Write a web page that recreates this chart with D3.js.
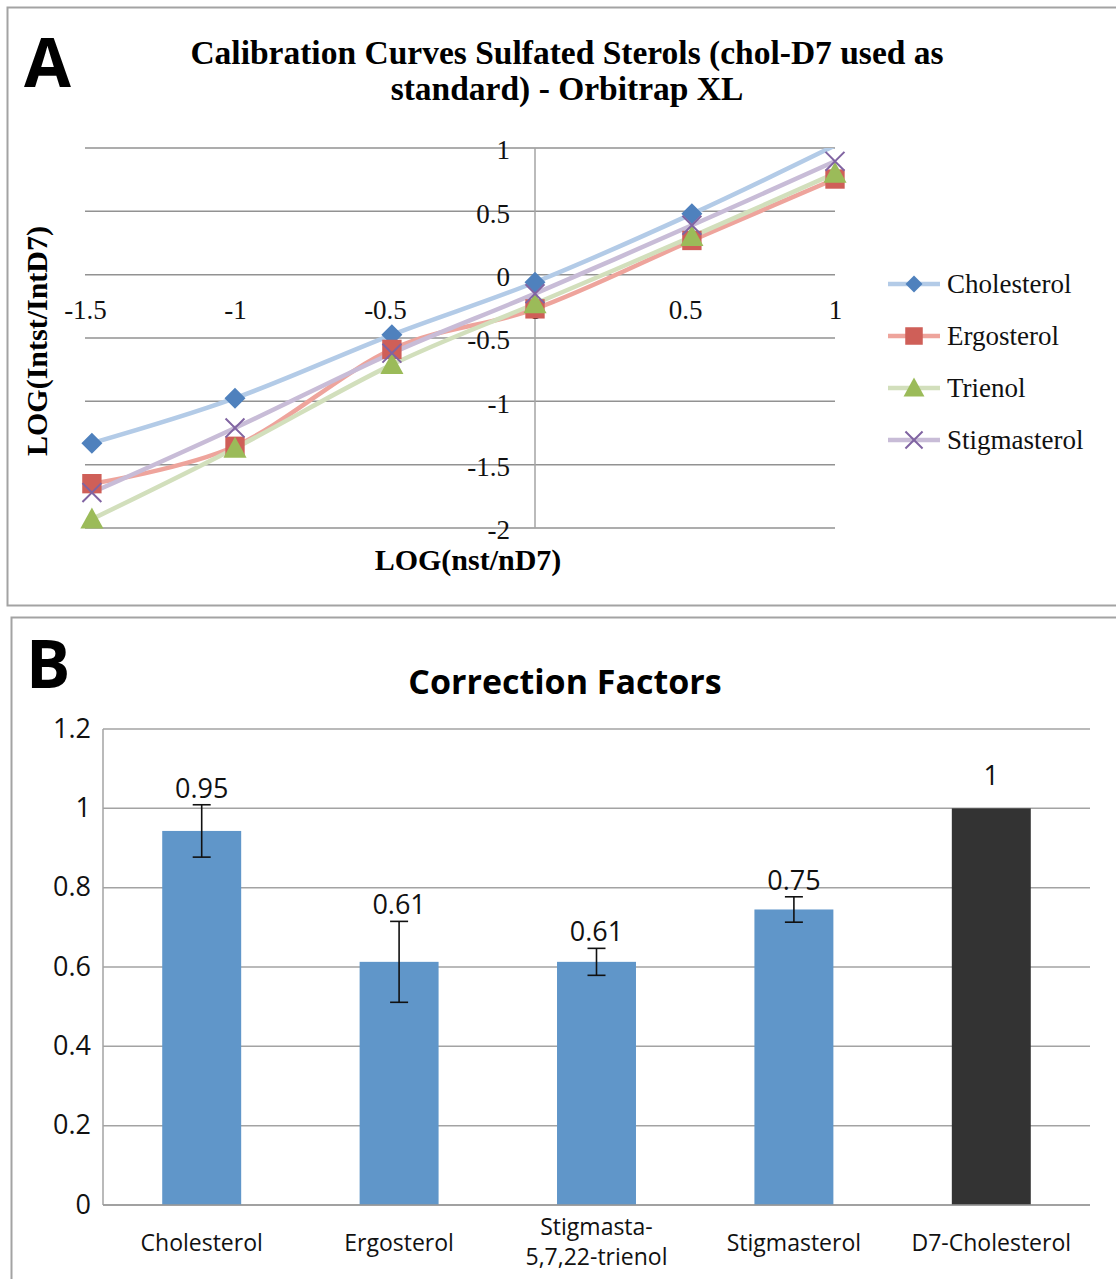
<!DOCTYPE html>
<html>
<head>
  <meta charset="utf-8">
  <script src="https://d3js.org/d3.v7.min.js"></script>
  <style>
    body { margin: 0; background: #fff; }
    .serif { font-family: "Liberation Serif", serif; }
    .sans { font-family: "Open Sans", sans-serif; }
  </style>
</head>
<body>
<svg id="chart"></svg>
<script>

// ---- panel A data : calibration curves ----
var logN = [-1.477, -1, -0.477, 0, 0.523, 1];
var seriesNames = ["Cholesterol", "Ergosterol", "Trienol", "Stigmasterol"];
var cholesterol  = [-1.33, -0.975, -0.475, -0.06, 0.48, 1.02];
var ergosterol   = [-1.65, -1.355, -0.59, -0.27, 0.27, 0.755];
var trienol      = [-1.93, -1.37, -0.71, -0.23, 0.30, 0.80];
var stigmasterol = [-1.72, -1.21, -0.62, -0.15, 0.39, 0.895];
var xTicksA = [-1.5, -1, -0.5, 0, 0.5, 1];
var yTicksA = [-2, -1.5, -1, -0.5, 0, 0.5, 1];

// ---- panel B data : correction factors ----
var compounds = ["Cholesterol", "Ergosterol", "Stigmasta-|5,7,22-trienol", "Stigmasterol", "D7-Cholesterol"];
var factors = [0.943, 0.613, 0.613, 0.745, 1.0];
var factorErr = [0.066, 0.102, 0.034, 0.032, 0];
var factorLabels = ["0.95", "0.61", "0.61", "0.75", "1"];
var yTicksB = [0, 0.2, 0.4, 0.6, 0.8, 1, 1.2];

var W = 1116, H = 1279;
var svg = d3.select("#chart").attr("width", W).attr("height", H);

// panel frames
svg.append("rect").attr("x", 7.5).attr("y", 7.5).attr("width", 1120).attr("height", 598)
  .attr("fill", "none").attr("stroke", "#a3a3a3").attr("stroke-width", 2);
svg.append("rect").attr("x", 11.5).attr("y", 617.5).attr("width", 1120).attr("height", 700)
  .attr("fill", "none").attr("stroke", "#a3a3a3").attr("stroke-width", 2);

// ================= PANEL A =================
var xA = d3.scaleLinear().domain([-1.5, 1]).range([85, 835]);
var yA = d3.scaleLinear().domain([-2, 1]).range([528, 148]);

svg.append("defs").append("clipPath").attr("id", "plotA").append("rect")
  .attr("x", xA(-1.5) - 20).attr("y", yA(1)).attr("width", xA(1) - xA(-1.5) + 40)
  .attr("height", yA(-2) - yA(1) + 20);

svg.append("text").attr("class", "sans").attr("x", 24).attr("y", 87)
  .attr("font-size", 68).attr("font-weight", "bold").text("A");

var titleA = svg.append("text").attr("class", "serif").attr("text-anchor", "middle")
  .attr("font-size", 33.5).attr("font-weight", "bold");
titleA.append("tspan").attr("x", 567).attr("y", 64).text("Calibration Curves Sulfated Sterols (chol-D7 used as");
titleA.append("tspan").attr("x", 567).attr("y", 100).text("standard) - Orbitrap XL");

// horizontal gridlines
svg.append("g").selectAll("line").data(yTicksA).enter().append("line")
  .attr("x1", xA(-1.5)).attr("x2", xA(1))
  .attr("y1", function(d) { return yA(d); }).attr("y2", function(d) { return yA(d); })
  .attr("stroke", "#929292").attr("stroke-width", 1.5);

// vertical axis through 0
svg.append("line").attr("x1", xA(0)).attr("x2", xA(0)).attr("y1", yA(1)).attr("y2", yA(-2))
  .attr("stroke", "#a5a5a5").attr("stroke-width", 1.5);

var yAxisA = svg.append("g").attr("transform", "translate(" + xA(0) + ",0)")
  .call(d3.axisLeft(yA).tickValues(yTicksA).tickSize(0).tickPadding(25)
    .tickFormat(function(d) { return d.toString(); }));
yAxisA.select(".domain").remove();
yAxisA.selectAll("text").attr("class", "serif").attr("font-size", 27).attr("fill", "#111")
  .attr("dy", "0.4em");

var xAxisA = svg.append("g").attr("transform", "translate(0," + yA(0) + ")")
  .call(d3.axisBottom(xA).tickValues(xTicksA).tickSize(0).tickPadding(25)
    .tickFormat(function(d) { return d.toString(); }));
xAxisA.select(".domain").remove();
xAxisA.selectAll("text").attr("class", "serif").attr("font-size", 27).attr("fill", "#111");

// axis titles
svg.append("text").attr("class", "serif").attr("font-size", 30).attr("font-weight", "bold")
  .attr("text-anchor", "middle").attr("x", 468).attr("y", 570).text("LOG(nst/nD7)");
svg.append("text").attr("class", "serif").attr("font-size", 30).attr("font-weight", "bold")
  .attr("text-anchor", "middle").attr("transform", "translate(47,341) rotate(-90)")
  .text("LOG(Intst/IntD7)");

var lineColors = ["#b3cbe7", "#eea49c", "#d2dfbc", "#c8bcd7"];
var markColors = ["#4f81bd", "#cf5f58", "#9bbb59", "#8064a2"];
var allSeries = [cholesterol, ergosterol, trienol, stigmasterol];

function markerPath(i, s) {
  if (i === 0) return d3.symbol().type(d3.symbolSquare).size(s * s * 0.5)();
  if (i === 1) return d3.symbol().type(d3.symbolSquare).size(s * s * 0.85)();
  if (i === 2) return "M0," + (-s * 0.55) + "L" + (s * 0.55) + "," + (s * 0.45) + "L" + (-s * 0.55) + "," + (s * 0.45) + "Z";
  var r = s * 0.45;
  return "M" + (-r) + "," + (-r) + "L" + r + "," + r + "M" + (-r) + "," + r + "L" + r + "," + (-r);
}
function drawMarker(g, i, cx, cy, s) {
  var p = g.append("path").attr("d", markerPath(i, s));
  var tr = "translate(" + cx + "," + cy + ")" + (i === 0 ? " rotate(45)" : "");
  p.attr("transform", tr);
  if (i === 3) p.attr("fill", "none").attr("stroke", markColors[i]).attr("stroke-width", 2);
  else p.attr("fill", markColors[i]);
}

var line = d3.line()
  .x(function(d) { return xA(d.x); })
  .y(function(d) { return yA(d.y); })
  .curve(d3.curveCardinal.tension(0));

var linesG = svg.append("g").attr("clip-path", "url(#plotA)");
allSeries.forEach(function(vals, i) {
  var pts = vals.map(function(v, k) { return {x: logN[k], y: v}; });
  linesG.append("path").datum(pts).attr("d", line)
    .attr("fill", "none").attr("stroke", lineColors[i]).attr("stroke-width", 4.5)
    .attr("stroke-linejoin", "round");
});
// markers beyond the axis maximum are not shown (as in the original)
var markG = svg.append("g");
allSeries.forEach(function(vals, i) {
  vals.forEach(function(v, k) {
    if (v > 1) return;
    drawMarker(markG, i, xA(logN[k]), yA(v), 21);
  });
});

// legend
var legY = [284, 336, 388, 440];
seriesNames.forEach(function(n, i) {
  svg.append("line").attr("x1", 888).attr("x2", 940).attr("y1", legY[i]).attr("y2", legY[i])
    .attr("stroke", lineColors[i]).attr("stroke-width", 4.5);
  drawMarker(svg, i, 914, legY[i], i === 0 ? 17 : 19);
  svg.append("text").attr("class", "serif").attr("font-size", 27).attr("fill", "#111")
    .attr("x", 947).attr("y", legY[i] + 9).text(n);
});

// ================= PANEL B =================
var xB = d3.scaleBand().domain(compounds).range([103, 1090]).paddingInner(0.6).paddingOuter(0.3);
var yB = d3.scaleLinear().domain([0, 1.2]).range([1205, 729]);

svg.append("text").attr("class", "sans").attr("x", 26).attr("y", 688)
  .attr("font-size", 66).attr("font-weight", "bold").text("B");
svg.append("text").attr("class", "sans").attr("x", 565).attr("y", 694)
  .attr("text-anchor", "middle").attr("font-size", 34).attr("font-weight", "bold")
  .text("Correction Factors");

svg.append("g").selectAll("line").data(yTicksB).enter().append("line")
  .attr("x1", 103).attr("x2", 1090)
  .attr("y1", function(d) { return yB(d); }).attr("y2", function(d) { return yB(d); })
  .attr("stroke", "#a3a3a3").attr("stroke-width", 1.5);
svg.append("line").attr("x1", 103).attr("x2", 103).attr("y1", yB(1.2)).attr("y2", yB(0))
  .attr("stroke", "#a3a3a3").attr("stroke-width", 1.5);

var yAxisB = svg.append("g").attr("transform", "translate(103,0)")
  .call(d3.axisLeft(yB).tickValues(yTicksB).tickSize(0).tickPadding(12)
    .tickFormat(function(d) { return d.toString(); }));
yAxisB.select(".domain").remove();
yAxisB.selectAll("text").attr("class", "sans").attr("font-size", 27).attr("fill", "#111")
  .attr("dy", "0.3em");

// bars
svg.append("g").selectAll("rect").data(compounds).enter().append("rect")
  .attr("x", function(d) { return xB(d); })
  .attr("width", xB.bandwidth())
  .attr("y", function(d, i) { return yB(factors[i]); })
  .attr("height", function(d, i) { return yB(0) - yB(factors[i]); })
  .attr("fill", function(d, i) { return i === 4 ? "#333333" : "#6096c9"; });

// bottom axis line over bars
svg.append("line").attr("x1", 103).attr("x2", 1090).attr("y1", yB(0)).attr("y2", yB(0))
  .attr("stroke", "#999").attr("stroke-width", 1.5);

// error bars
var errG = svg.append("g").attr("stroke", "#111").attr("stroke-width", 1.6);
compounds.forEach(function(c, i) {
  if (!factorErr[i]) return;
  var cx = xB(c) + xB.bandwidth() / 2;
  var t = yB(factors[i] + factorErr[i]), b = yB(factors[i] - factorErr[i]);
  errG.append("line").attr("x1", cx).attr("x2", cx).attr("y1", t).attr("y2", b);
  errG.append("line").attr("x1", cx - 9).attr("x2", cx + 9).attr("y1", t).attr("y2", t);
  errG.append("line").attr("x1", cx - 9).attr("x2", cx + 9).attr("y1", b).attr("y2", b);
});

// value labels
compounds.forEach(function(c, i) {
  var cx = xB(c) + xB.bandwidth() / 2;
  var top = yB(factors[i] + factorErr[i]);
  svg.append("text").attr("class", "sans").attr("font-size", 27).attr("fill", "#111")
    .attr("text-anchor", "middle").attr("x", cx)
    .attr("y", top - (factorErr[i] ? 7 : 23)).text(factorLabels[i]);
});

// category labels
compounds.forEach(function(c) {
  var parts = c.split("|");
  var cx = xB(c) + xB.bandwidth() / 2;
  var t = svg.append("text").attr("class", "sans").attr("font-size", 23).attr("fill", "#111")
    .attr("text-anchor", "middle");
  if (parts.length === 1) {
    t.attr("x", cx).attr("y", 1251).text(c);
  } else {
    parts.forEach(function(p, k) {
      t.append("tspan").attr("x", cx).attr("y", 1235 + k * 30).text(p);
    });
  }
});

</script>
</body>
</html>
